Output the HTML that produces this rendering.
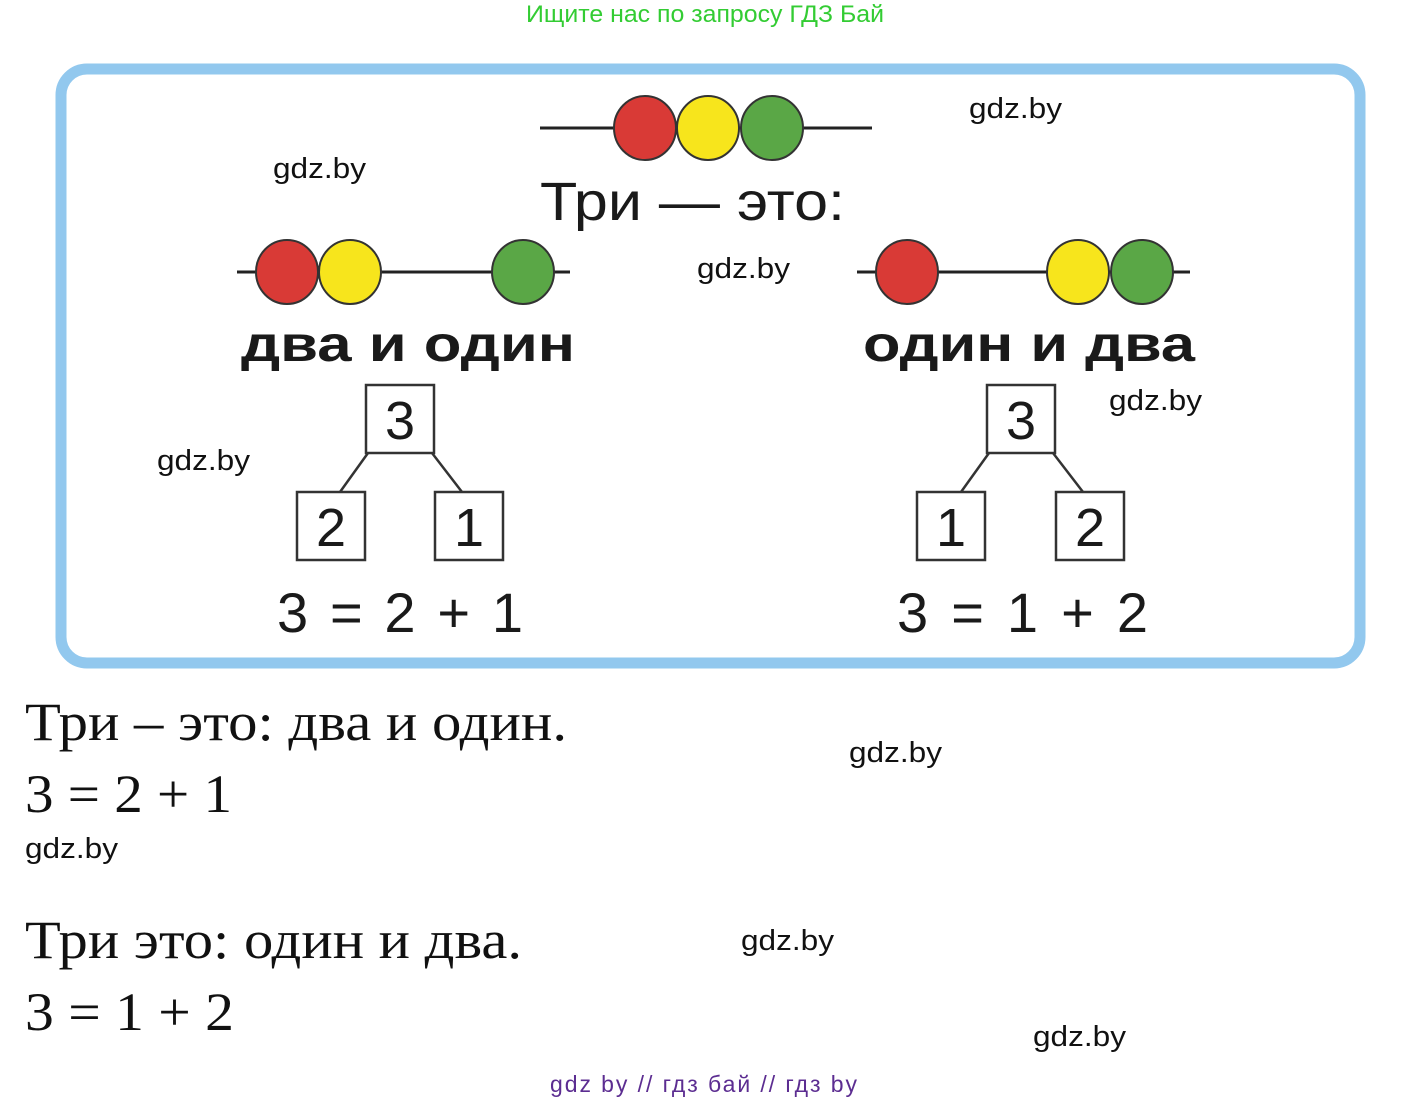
<!DOCTYPE html>
<html><head><meta charset="utf-8"><style>
html,body{margin:0;padding:0;background:#fff;}
svg{display:block;}
</style></head><body>
<svg width="1411" height="1101" viewBox="0 0 1411 1101" xmlns="http://www.w3.org/2000/svg">
<text x="526" y="22" textLength="358" lengthAdjust="spacingAndGlyphs" font-family="Liberation Sans, sans-serif" font-size="24" fill="#33cc33">Ищите нас по запросу ГДЗ Бай</text>
<rect x="61" y="69" width="1299" height="594" rx="26" fill="#fff" stroke="#92c8ee" stroke-width="11"/>
<g stroke="#222" stroke-width="3">
<line x1="540" y1="128" x2="872" y2="128"/>
<line x1="237" y1="272" x2="570" y2="272"/>
<line x1="857" y1="272" x2="1190" y2="272"/>
</g>
<g stroke="#333" stroke-width="2">
<ellipse cx="645" cy="128" rx="31" ry="32" fill="#d93a36"/>
<ellipse cx="708" cy="128" rx="31" ry="32" fill="#f7e51c"/>
<ellipse cx="772" cy="128" rx="31" ry="32" fill="#5aa746"/>
<ellipse cx="287" cy="272" rx="31" ry="32" fill="#d93a36"/>
<ellipse cx="350" cy="272" rx="31" ry="32" fill="#f7e51c"/>
<ellipse cx="523" cy="272" rx="31" ry="32" fill="#5aa746"/>
<ellipse cx="907" cy="272" rx="31" ry="32" fill="#d93a36"/>
<ellipse cx="1078" cy="272" rx="31" ry="32" fill="#f7e51c"/>
<ellipse cx="1142" cy="272" rx="31" ry="32" fill="#5aa746"/>
</g>
<g font-family="Liberation Sans, sans-serif" fill="#1a1a1a">
<text x="540" y="220" font-size="54" textLength="305" lengthAdjust="spacingAndGlyphs">Три — это:</text>
<text x="241" y="361" font-size="50" font-weight="bold" textLength="334" lengthAdjust="spacingAndGlyphs">два и один</text>
<text x="863" y="361" font-size="50" font-weight="bold" textLength="332" lengthAdjust="spacingAndGlyphs">один и два</text>
</g>
<g fill="#fff" stroke="#333" stroke-width="2.5">
<rect x="366" y="385" width="68" height="68"/>
<rect x="297" y="492" width="68" height="68"/>
<rect x="435" y="492" width="68" height="68"/>
<rect x="987" y="385" width="68" height="68"/>
<rect x="917" y="492" width="68" height="68"/>
<rect x="1056" y="492" width="68" height="68"/>
</g>
<g stroke="#333" stroke-width="2.5">
<line x1="368" y1="453" x2="340" y2="492"/><line x1="432" y1="453" x2="462" y2="492"/>
<line x1="989" y1="453" x2="961" y2="492"/><line x1="1053" y1="453" x2="1083" y2="492"/>
</g>
<g font-family="Liberation Sans, sans-serif" font-size="54" fill="#1a1a1a" text-anchor="middle">
<text x="400" y="439">3</text><text x="331" y="546">2</text><text x="469" y="546">1</text>
<text x="1021" y="439">3</text><text x="951" y="546">1</text><text x="1090" y="546">2</text>
</g>
<g font-family="Liberation Sans, sans-serif" font-size="56" fill="#1a1a1a">
<text x="277" y="632" textLength="246" lengthAdjust="spacing">3 = 2 + 1</text>
<text x="897" y="632" textLength="251" lengthAdjust="spacing">3 = 1 + 2</text>
</g>
<g font-family="Liberation Serif, serif" font-size="54" fill="#111">
<text x="25" y="740" textLength="542" lengthAdjust="spacingAndGlyphs">Три – это: два и один.</text>
<text x="25" y="812" textLength="207" lengthAdjust="spacingAndGlyphs">3 = 2 + 1</text>
<text x="25" y="958" textLength="497" lengthAdjust="spacingAndGlyphs">Три это: один и два.</text>
<text x="25" y="1030" textLength="209" lengthAdjust="spacingAndGlyphs">3 = 1 + 2</text>
</g>
<g font-family="Liberation Sans, sans-serif" font-size="29" fill="#111">
<text x="969" y="118" textLength="93" lengthAdjust="spacingAndGlyphs">gdz.by</text>
<text x="273" y="178" textLength="93" lengthAdjust="spacingAndGlyphs">gdz.by</text>
<text x="697" y="278" textLength="93" lengthAdjust="spacingAndGlyphs">gdz.by</text>
<text x="1109" y="410" textLength="93" lengthAdjust="spacingAndGlyphs">gdz.by</text>
<text x="157" y="470" textLength="93" lengthAdjust="spacingAndGlyphs">gdz.by</text>
<text x="849" y="762" textLength="93" lengthAdjust="spacingAndGlyphs">gdz.by</text>
<text x="25" y="858" textLength="93" lengthAdjust="spacingAndGlyphs">gdz.by</text>
<text x="741" y="950" textLength="93" lengthAdjust="spacingAndGlyphs">gdz.by</text>
<text x="1033" y="1046" textLength="93" lengthAdjust="spacingAndGlyphs">gdz.by</text>
</g>
<text x="550" y="1092" textLength="307" lengthAdjust="spacing" font-family="Liberation Sans, sans-serif" font-size="23" fill="#5c2d91">gdz by  //  гдз бай  //  гдз by</text>
</svg>
</body></html>
